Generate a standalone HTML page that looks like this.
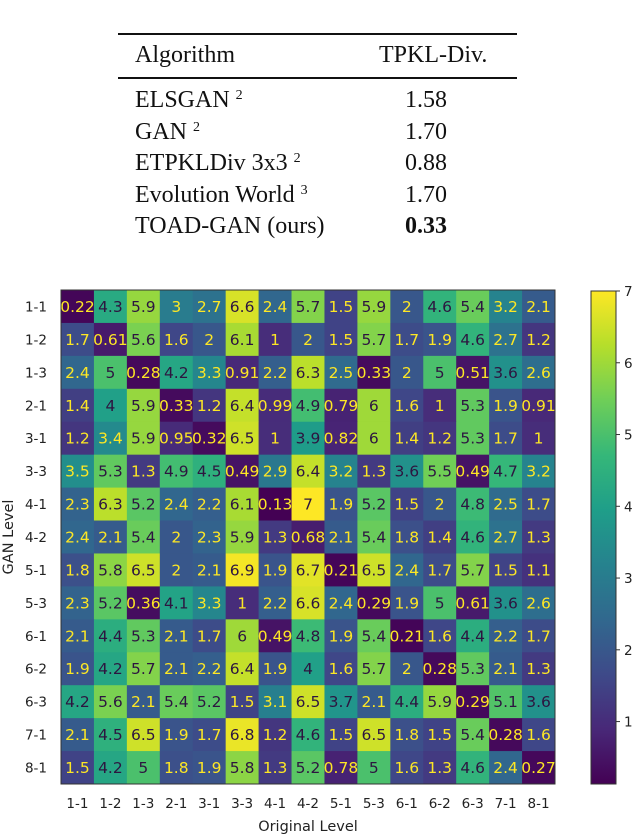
<!DOCTYPE html>
<html><head><meta charset="utf-8"><style>
body{margin:0;background:#fff;width:640px;height:837px;overflow:hidden;position:relative;font-family:"Liberation Serif",serif}
.tbl{position:absolute;left:118px;top:0;width:399px}
.rule{position:absolute;left:0;width:399px;background:#111}
.t{position:absolute;font-size:24px;line-height:24px;white-space:nowrap;color:#111}
.t sup{font-size:14px;vertical-align:8px;line-height:0}
</style></head><body>
<div class="tbl">
<div class="rule" style="top:33px;height:2px"></div>
<div class="t" style="left:17px;top:43px">Algorithm</div>
<div class="t" style="left:261px;top:43px">TPKL-Div.</div>
<div class="rule" style="top:77px;height:1.5px"></div>
<div class="t" style="left:17px;top:88px">ELSGAN <sup>2</sup></div>
<div class="t" style="left:287px;top:88px">1.58</div>
<div class="t" style="left:17px;top:120px">GAN <sup>2</sup></div>
<div class="t" style="left:287px;top:120px">1.70</div>
<div class="t" style="left:17px;top:151px">ETPKLDiv 3x3 <sup>2</sup></div>
<div class="t" style="left:287px;top:151px">0.88</div>
<div class="t" style="left:17px;top:183px">Evolution World <sup>3</sup></div>
<div class="t" style="left:287px;top:183px">1.70</div>
<div class="t" style="left:17px;top:214px">TOAD-GAN (ours)</div>
<div class="t" style="left:287px;top:214px;font-weight:bold">0.33</div>
</div>
<svg id="chart" width="640" height="837" style="position:absolute;left:0;top:0"></svg>
<script>
const levels=["1-1","1-2","1-3","2-1","3-1","3-3","4-1","4-2","5-1","5-3","6-1","6-2","6-3","7-1","8-1"];
const cellLabels=[
["0.22","4.3","5.9","3","2.7","6.6","2.4","5.7","1.5","5.9","2","4.6","5.4","3.2","2.1"],
["1.7","0.61","5.6","1.6","2","6.1","1","2","1.5","5.7","1.7","1.9","4.6","2.7","1.2"],
["2.4","5","0.28","4.2","3.3","0.91","2.2","6.3","2.5","0.33","2","5","0.51","3.6","2.6"],
["1.4","4","5.9","0.33","1.2","6.4","0.99","4.9","0.79","6","1.6","1","5.3","1.9","0.91"],
["1.2","3.4","5.9","0.95","0.32","6.5","1","3.9","0.82","6","1.4","1.2","5.3","1.7","1"],
["3.5","5.3","1.3","4.9","4.5","0.49","2.9","6.4","3.2","1.3","3.6","5.5","0.49","4.7","3.2"],
["2.3","6.3","5.2","2.4","2.2","6.1","0.13","7","1.9","5.2","1.5","2","4.8","2.5","1.7"],
["2.4","2.1","5.4","2","2.3","5.9","1.3","0.68","2.1","5.4","1.8","1.4","4.6","2.7","1.3"],
["1.8","5.8","6.5","2","2.1","6.9","1.9","6.7","0.21","6.5","2.4","1.7","5.7","1.5","1.1"],
["2.3","5.2","0.36","4.1","3.3","1","2.2","6.6","2.4","0.29","1.9","5","0.61","3.6","2.6"],
["2.1","4.4","5.3","2.1","1.7","6","0.49","4.8","1.9","5.4","0.21","1.6","4.4","2.2","1.7"],
["1.9","4.2","5.7","2.1","2.2","6.4","1.9","4","1.6","5.7","2","0.28","5.3","2.1","1.3"],
["4.2","5.6","2.1","5.4","5.2","1.5","3.1","6.5","3.7","2.1","4.4","5.9","0.29","5.1","3.6"],
["2.1","4.5","6.5","1.9","1.7","6.8","1.2","4.6","1.5","6.5","1.8","1.5","5.4","0.28","1.6"],
["1.5","4.2","5","1.8","1.9","5.8","1.3","5.2","0.78","5","1.6","1.3","4.6","2.4","0.27"]];
const cbTicks=[1,2,3,4,5,6,7];
const vmin=0.13, vmax=7;
const NS="http://www.w3.org/2000/svg";
const svg=document.getElementById('chart');
const X0=61,Y0=290,W=494,H=494;
const cw=W/levels.length, ch=H/levels.length;
const xPos=i=>X0+i*cw, yPos=i=>Y0+i*ch;
const vir=[[68,1,84],[72,40,120],[62,74,137],[49,104,142],[38,130,142],[31,158,137],[53,183,121],[110,206,88],[181,222,43],[253,231,37]];
function color(v){let t=Math.max(0,Math.min(1,(v-vmin)/(vmax-vmin)))*(vir.length-1);let i=Math.min(Math.floor(t),vir.length-2),f=t-i;const c=vir[i].map((a,k)=>Math.round(a+(vir[i+1][k]-a)*f));return `rgb(${c})`;}
function mk(tag,attrs,parent){const e=document.createElementNS(NS,tag);for(const k in attrs)e.setAttribute(k,attrs[k]);(parent||svg).appendChild(e);return e;}
const font='DejaVu Sans, sans-serif';
for(let r=0;r<levels.length;r++){for(let c=0;c<levels.length;c++){
 const v=parseFloat(cellLabels[r][c]);
 const rect=mk('rect',{x:xPos(c),y:yPos(r),width:cw+0.5,height:ch+0.5,fill:color(v)});
 
 
 const t=mk('text',{x:xPos(c)+cw/2,y:yPos(r)+ch/2+5.5,'text-anchor':'middle','font-family':font,'font-size':'15.5',fill:v<(vmin+vmax)/2?'#fde725':'#2d1540'});
 t.textContent=cellLabels[r][c];
 
 
}}
const frame=mk('rect',{x:X0,y:Y0,width:W,height:H,fill:'none',stroke:'#333','stroke-width':1});


levels.forEach((l,i)=>{
 const ty=mk('text',{x:47,y:yPos(i)+ch/2+5,'text-anchor':'end','font-family':font,'font-size':'13.5',fill:'#222'});ty.textContent=l;
 
 
 const tx=mk('text',{x:xPos(i)+cw/2,y:808,'text-anchor':'middle','font-family':font,'font-size':'13.5',fill:'#222'});tx.textContent=l;
 
 
});
const xt=mk('text',{x:308,y:831,'text-anchor':'middle','font-family':font,'font-size':'14.5',fill:'#222'});xt.textContent='Original Level';


const yt=mk('text',{x:0,y:0,'text-anchor':'middle','font-family':font,'font-size':'14.5',fill:'#222',transform:'translate(13,537) rotate(-90)'});yt.textContent='GAN Level';


const CB={x:591,w:25,top:291,bot:784};
const cbY=v=>CB.bot-(v-vmin)/(vmax-vmin)*(CB.bot-CB.top);
const defs=mk('defs',{});const g=mk('linearGradient',{id:'vg',x1:0,y1:1,x2:0,y2:0},defs);
vir.forEach((c,i)=>mk('stop',{offset:i/(vir.length-1),'stop-color':`rgb(${c})`},g));
const cb=mk('rect',{x:CB.x,y:CB.top,width:CB.w,height:CB.bot-CB.top,fill:'url(#vg)',stroke:'#333','stroke-width':1});


cbTicks.forEach(v=>{
 mk('line',{x1:CB.x+CB.w,x2:CB.x+CB.w+4,y1:cbY(v),y2:cbY(v),stroke:'#333'});
 const t=mk('text',{x:CB.x+CB.w+8,y:cbY(v)+5,'font-family':font,'font-size':'13.5',fill:'#222'});t.textContent=v;
 
 
});
</script>
</body></html>
